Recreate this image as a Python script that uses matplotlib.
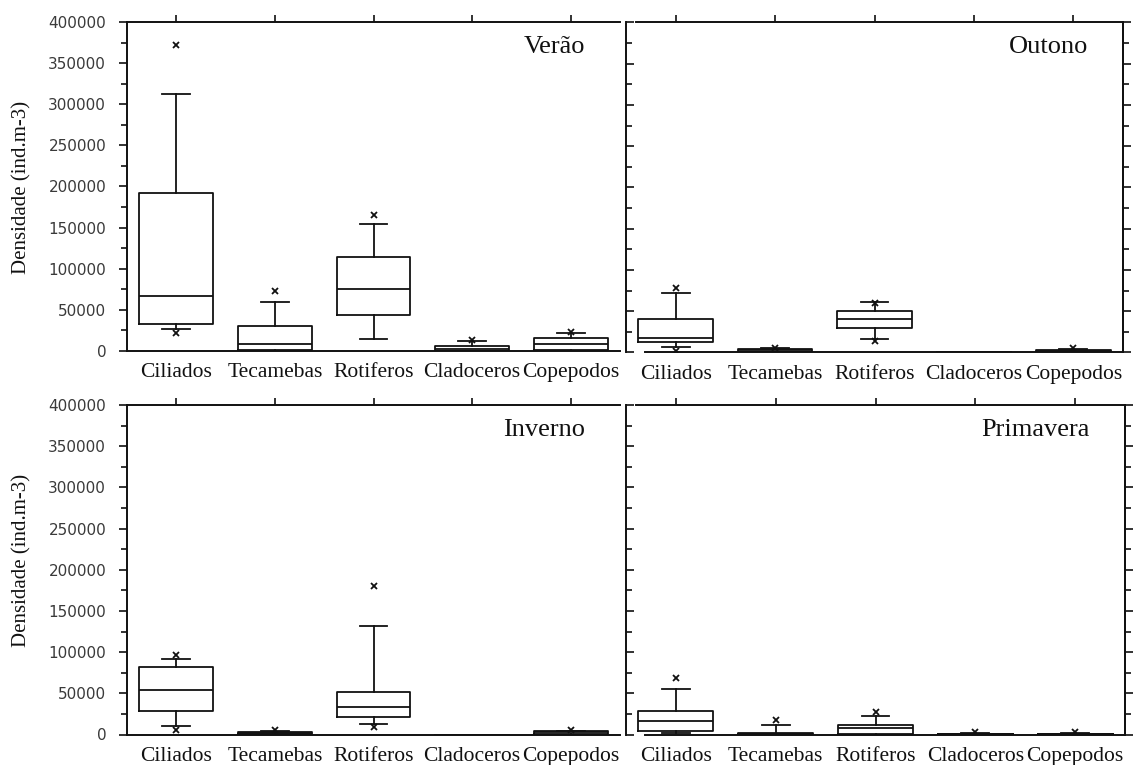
import matplotlib
matplotlib.use("Agg")
import matplotlib.pyplot as plt
from matplotlib.ticker import MultipleLocator

# Zooplankton density per season (ind.m-3): box-plot summaries
GROUPS = ["Ciliados", "Tecamebas", "Rotiferos", "Cladoceros", "Copepodos"]
SEASONS = ["Verão", "Outono", "Inverno", "Primavera"]

WHISKER_LOW = [
    [26400, 0, 14200, 0, 0],
    [7000, 0, 16000, 0, 0],
    [10900, 0, 13000, 0, 0],
    [1500, 0, 0, 0, 0],
]
Q1 = [
    [32800, 1200, 43400, 500, 1000],
    [13100, 500, 30100, 0, 300],
    [29100, 500, 21000, 0, 500],
    [4000, 200, 500, 200, 200],
]
MEDIAN = [
    [66500, 8100, 75000, 2800, 8100],
    [18000, 2500, 40700, 0, 1500],
    [54200, 1500, 33600, 0, 2500],
    [16100, 800, 7300, 600, 500],
]
Q3 = [
    [191700, 30800, 114300, 6000, 16200],
    [40700, 4500, 50800, 0, 3000],
    [81600, 2500, 52100, 0, 4000],
    [28300, 1500, 12100, 1200, 1000],
]
WHISKER_HIGH = [
    [312500, 60000, 154000, 12000, 22000],
    [71900, 5000, 61000, 0, 4500],
    [91700, 4000, 131300, 0, 4500],
    [55800, 12100, 22200, 1800, 2000],
]
OUTLIERS = [
    [[372000, 22300], [73000], [165300], [13000], [23500]],
    [[78000, 2200], [5500], [60500, 13500], [], [5000]],
    [[96100, 5200], [6000], [180200, 8800], [], [5000]],
    [[69100], [17400], [27500], [3000], [3500]],
]

YMAX = 400000
SERIF = ["Liberation Serif", "DejaVu Serif"]
INK = "#111111"

W, H = 1136, 765
fig = plt.figure(figsize=(W / 100, H / 100), dpi=100)
fig.patch.set_facecolor("white")


def px_rect(x0, y0, x1, y1):
    return [x0 / W, 1 - y1 / H, (x1 - x0) / W, (y1 - y0) / H]


panel_rects = [
    px_rect(127, 22, 620, 351),
    px_rect(626, 22.5, 1123, 352.5),
    px_rect(127, 405, 620, 734.5),
    px_rect(626, 405, 1125, 734.5),
]

line_kw = dict(color=INK, linewidth=1.3)

for k, season in enumerate(SEASONS):
    ax = fig.add_axes(panel_rects[k])
    left_col = k % 2 == 0

    stats = []
    for i, name in enumerate(GROUPS):
        stats.append(dict(
            label=name,
            whislo=WHISKER_LOW[k][i], q1=Q1[k][i], med=MEDIAN[k][i],
            q3=Q3[k][i], whishi=WHISKER_HIGH[k][i],
            fliers=OUTLIERS[k][i],
        ))

    ax.bxp(stats, positions=range(len(GROUPS)), widths=0.75, capwidths=0.28,
           showfliers=True,
           boxprops=line_kw, whiskerprops=line_kw, capprops=line_kw,
           medianprops=line_kw,
           flierprops=dict(marker="x", markersize=5, markeredgecolor=INK,
                           markeredgewidth=1.3, linestyle="none"))

    ax.set_xlim(-0.5, len(GROUPS) - 0.5)
    ax.set_ylim(0, YMAX)

    for sp in ax.spines.values():
        sp.set_linewidth(1.4)
        sp.set_color(INK)

    # category ticks sit on the top frame, names below the baseline
    ax.set_xticks(range(len(GROUPS)))
    ax.set_xticklabels(GROUPS, fontfamily=SERIF, fontsize=15.5, color=INK)
    ax.tick_params(axis="x", top=True, bottom=False, labeltop=False,
                   labelbottom=True, direction="out", length=5, width=1.2,
                   pad=4, color=INK)

    ax.yaxis.set_major_locator(MultipleLocator(50000))
    ax.yaxis.set_minor_locator(MultipleLocator(25000))

    if left_col:
        ax.spines["right"].set_visible(False)
        ax.tick_params(axis="y", which="both", left=True, right=False,
                       direction="out", width=1.2, color=INK)
        ax.tick_params(axis="y", which="major", length=6, pad=9,
                       labelsize=11, labelcolor="#3a3a3a")
        ax.tick_params(axis="y", which="minor", length=4)
        for lab in ax.get_yticklabels():
            lab.set_fontfamily("DejaVu Sans")
        yc = 187 if k == 0 else 560
        fig.text(22 / W, 1 - yc / H, "Densidade (ind.m-3)", rotation=90,
                 ha="center", va="center", fontfamily=SERIF, fontsize=15,
                 color=INK)
    else:
        ax.tick_params(axis="y", which="both", left=True, right=False,
                       labelleft=False, direction="in", width=1.2, color=INK)
        ax.tick_params(axis="y", which="major", length=6)
        ax.tick_params(axis="y", which="minor", length=4)
        sec = ax.secondary_yaxis("right")
        sec.yaxis.set_major_locator(MultipleLocator(50000))
        sec.yaxis.set_minor_locator(MultipleLocator(25000))
        sec.tick_params(axis="y", which="both", direction="out", width=1.2,
                        labelright=False, color=INK)
        sec.tick_params(axis="y", which="major", length=6)
        sec.tick_params(axis="y", which="minor", length=4)
        sec.spines["right"].set_linewidth(1.4)
        sec.spines["right"].set_color(INK)
        ax.spines["top"].set_bounds(-0.4, len(GROUPS) - 0.5)
        ax.spines["bottom"].set_bounds(-0.31, len(GROUPS) - 0.5)

    ax.text(0.93, 0.925, season, transform=ax.transAxes, ha="right",
            va="center", fontfamily=SERIF, fontsize=19, color=INK)

fig.savefig("out.png", dpi=100, facecolor="white")
